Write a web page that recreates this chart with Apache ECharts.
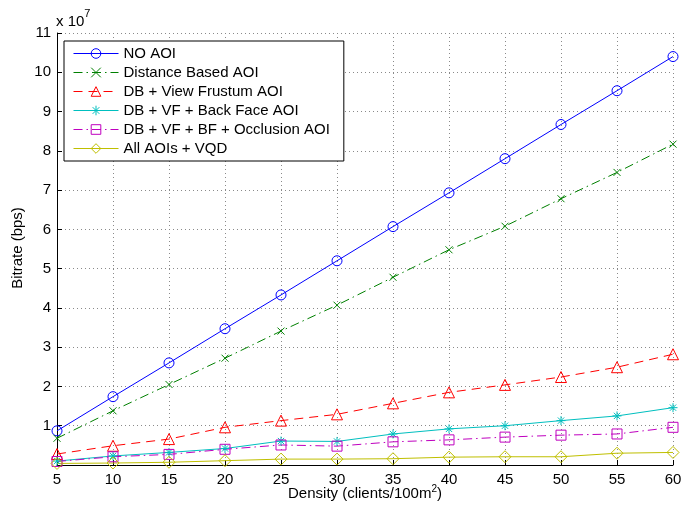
<!DOCTYPE html>
<html><head><meta charset="utf-8">
<script src="https://cdn.jsdelivr.net/npm/echarts@6/dist/echarts.min.js"></script>
<style>html,body{margin:0;padding:0;background:#fff}#c{width:697px;height:508px}</style>
</head><body><div id="c"></div>
<script>
var density = [5,10,15,20,25,30,35,40,45,50,55,60];
var yTicks = [0,1,2,3,4,5,6,7,8,9,10,11];
var seriesNames = ['NO AOI','Distance Based AOI','DB + View Frustum AOI','DB + VF + Back Face AOI','DB + VF + BF + Occlusion AOI','All AOIs + VQD'];
// values in units of 1e7 bps
var noAOI     = [0.87,1.74,2.60,3.47,4.33,5.20,6.07,6.93,7.80,8.67,9.53,10.40];
var distAOI   = [0.68,1.38,2.05,2.72,3.41,4.07,4.78,5.48,6.08,6.78,7.45,8.17];
var vfAOI     = [0.28,0.49,0.66,0.96,1.13,1.29,1.57,1.85,2.04,2.24,2.49,2.82];
var bfAOI     = [0.10,0.23,0.32,0.42,0.61,0.60,0.79,0.92,1.00,1.13,1.25,1.46];
var occAOI    = [0.09,0.21,0.27,0.40,0.51,0.48,0.59,0.64,0.71,0.76,0.79,0.96];
var vqdAOI    = [0.04,0.05,0.07,0.11,0.15,0.15,0.16,0.20,0.21,0.21,0.30,0.32];

var F = 'Liberation Sans, Arial, Helvetica, sans-serif';
function pairs(v){ return density.map(function(d,i){ return [d, v[i]]; }); }
function mk(name, data, color, dash, symbol, size){
  return {
    name: name, type: 'line', data: pairs(data), clip: false,
    symbol: symbol, symbolSize: size,
    lineStyle: {color: color, width: 1, type: dash},
    itemStyle: {color: 'none', borderColor: color, borderWidth: 1},
    emphasis: {disabled: true}, animation: false
  };
}
var CIRC = 'path://M10,5A5,5 0 1,1 0,5A5,5 0 1,1 10,5Z';
var TRI = 'path://M5,0L10,9L0,9Z';
var RECT = 'path://M0,0L10,0L10,10L0,10Z';
var DIAM = 'path://M5,0L10,6L5,12L0,6Z';
var X = 'path://M0,0L10,10M10,0L0,10';
var STAR = 'path://M5,0L5,10M0,5L10,5M1.5,1.5L8.5,8.5M8.5,1.5L1.5,8.5';
var chart = echarts.init(document.getElementById('c'), null, {renderer:'canvas'});
chart.setOption({
  animation: false,
  backgroundColor: '#fff',
  grid: {left: 57, right: 24, top: 33, bottom: 43, containLabel: false},
  xAxis: {
    type: 'value', min: 5, max: 60, interval: 5,
    axisLine: {lineStyle: {color: '#000', width: 1}},
    axisTick: {inside: true, length: 5, lineStyle: {color: '#000'}},
    axisLabel: {color: '#000', fontSize: 15, fontFamily: F, margin: 7},
    splitLine: {show: true, lineStyle: {color: '#8a8a8a', type: [1,3], width: 1}}
  },
  yAxis: {
    type: 'value', min: yTicks[0], max: yTicks[yTicks.length-1], interval: 1,
    axisLine: {show: true, lineStyle: {color: '#000', width: 1}},
    axisTick: {show: true, inside: true, length: 5, lineStyle: {color: '#000'}},
    axisLabel: {color: '#000', fontSize: 15, fontFamily: F, margin: 6,
      formatter: function(v){ return v === 0 ? '' : String(v); }},
    splitLine: {show: true, lineStyle: {color: '#8a8a8a', type: [1,3], width: 1}}
  },
  legend: {
    orient: 'vertical', left: 64, top: 41,
    backgroundColor: '#fff', borderColor: '#000', borderWidth: 1,
    padding: [4, 14, 4, 9], itemGap: 2, itemWidth: 45, itemHeight: 12,
    lineStyle: {width: 1},
    itemStyle: {borderWidth: 1},
    textStyle: {color: '#000', fontSize: 15, fontFamily: F, lineHeight: 17},
    data: seriesNames
  },
  series: [
    mk(seriesNames[0], noAOI, '#0000ff', 'solid', CIRC, 10),
    mk(seriesNames[1], distAOI, '#008000', [9,4,1.5,4], X, 7),
    mk(seriesNames[2], vfAOI, '#ff0000', [9,6], TRI, 11),
    mk(seriesNames[3], bfAOI, '#00bfbf', 'solid', STAR, 9),
    mk(seriesNames[4], occAOI, '#bf00bf', [9,4,1.5,4], RECT, 10),
    mk(seriesNames[5], vqdAOI, '#bfbf00', 'solid', DIAM, 12)
  ],
  graphic: [
    {type: 'text', left: 56, top: 8, style: {
      text: '{a|x 10}{s|7}', fill: '#000',
      rich: {a: {fontSize: 15, fontFamily: F, padding: [6,0,0,0]}, s: {fontSize: 11, fontFamily: F, verticalAlign: 'top'}}
    }},
    {type: 'text', x: 18, y: 248, rotation: Math.PI/2, style: {
      text: 'Bitrate (bps)', fill: '#000', fontSize: 15, fontFamily: F, align: 'center', verticalAlign: 'middle'
    }},
    {type: 'text', x: 365, y: 494, style: {
      text: '{a|Density (clients/100m}{s|2}{a|)}', fill: '#000', align: 'center', verticalAlign: 'middle',
      rich: {a: {fontSize: 15, fontFamily: F}, s: {fontSize: 10, fontFamily: F, padding: [0,0,9,0]}}
    }}
  ]
});
</script></body></html>
